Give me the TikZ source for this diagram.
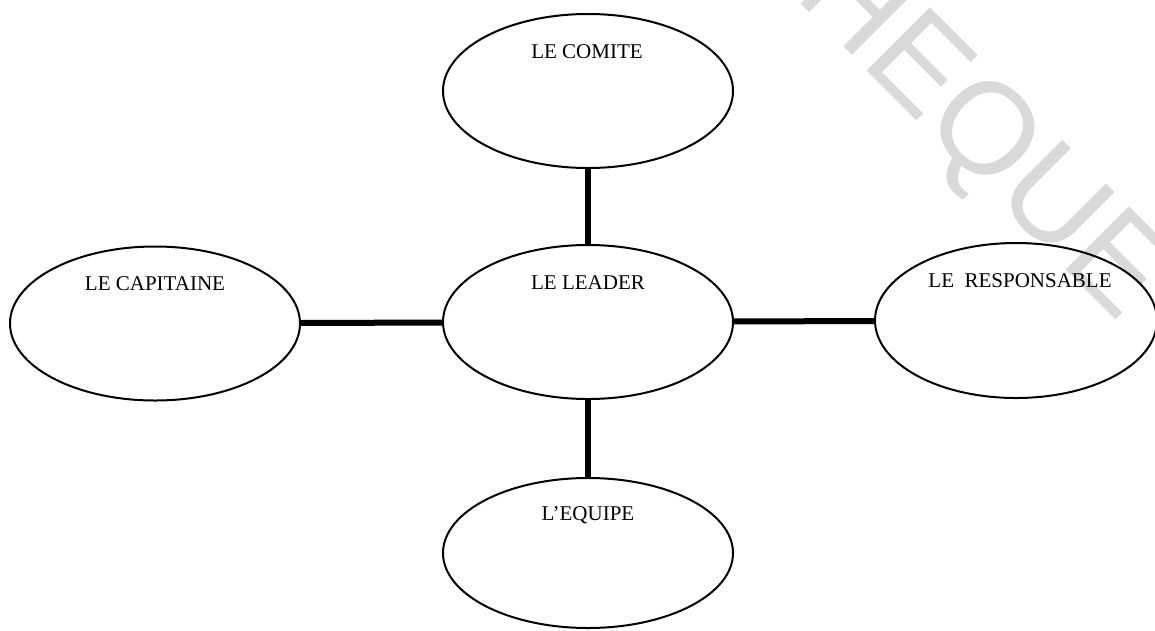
\documentclass[tikz,border=0pt]{standalone}
\usepackage{fontspec}
\setmainfont{Liberation Serif}
\newfontfamily\wmfont{Liberation Sans}
\usetikzlibrary{shapes.geometric}
\definecolor{wmgray}{HTML}{D9D9D9}
\tikzset{
  oval/.style={draw=black, line width=2pt, ellipse, inner sep=0pt,
               minimum width=290pt, minimum height=154pt},
  lbl/.style={font=\fontsize{21}{24}\selectfont, inner sep=0pt},
  link/.style={line width=6pt},
  watermark/.style={font=\wmfont\fontsize{130}{130}\selectfont, text=wmgray, inner sep=0pt}
}
\begin{document}
\begin{tikzpicture}[x=1pt,y=-1pt]
\useasboundingbox (0,0) rectangle (1155,630);
\begin{scope}
\clip (0,0) rectangle (1155,630);
\node[watermark, rotate=-45] (wm) at (980,137) {HEQUE};
\end{scope}
\node[oval] (comite) at (588,91) {};
\node[oval] (capitaine) at (155,323.5) {};
\node[oval] (leader) at (588,322) {};
\node[oval, minimum width=282pt, minimum height=155pt] (responsable) at (1016,320.5) {};
\node[oval, minimum height=150pt] (equipe) at (588,553) {};
\draw[link] (comite) -- (leader);
\draw[link] (capitaine) -- (leader);
\draw[link] (leader) -- (responsable);
\draw[link] (leader) -- (equipe);
\node[lbl] (tcomite) at (587,52) {LE COMITE};
\node[lbl] (tcapitaine) at (155,284) {LE CAPITAINE};
\node[lbl] (tleader) at (588,283) {LE LEADER};
\node[lbl] (tresponsable) at (1020,281) {LE\ \ RESPONSABLE};
\node[lbl] (tequipe) at (588,515) {L'EQUIPE};
\end{tikzpicture}
\end{document}
